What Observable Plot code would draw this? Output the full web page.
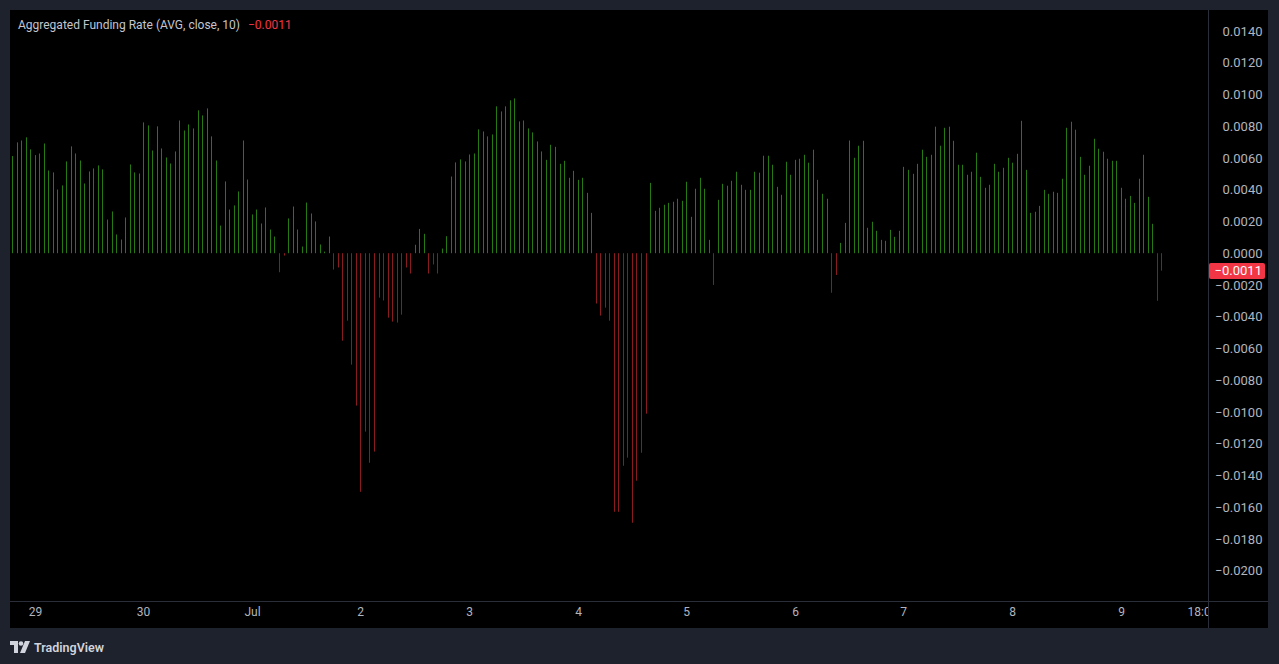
<!DOCTYPE html>
<html>
<head>
<meta charset="utf-8">
<script src="https://cdn.jsdelivr.net/npm/d3@7"></script>
<script src="https://cdn.jsdelivr.net/npm/@observablehq/plot@0.6"></script>
<style>
  html, body { margin: 0; padding: 0; background: #1e222d; }
  body { width: 1279px; height: 664px; position: relative; overflow: hidden; font-family: Roboto, "Open Sans", sans-serif; }
  #panel { position: absolute; left: 10px; top: 10px; width: 1258px; height: 618px; background: #000; }
  #title { position: absolute; left: 8px; top: 8px; font-size: 12px; color: #c3c6ce; white-space: nowrap; }
  #title .val { color: #f23645; margin-left: 8px; }
  #footer { position: absolute; left: 10px; top: 638px; height: 18px; display: flex; align-items: center; color: #d1d4dc; font-size: 12.5px; font-weight: 600; }
  #footer svg { margin-right: 4px; }
</style>
</head>
<body>
<div id="panel">
  <div id="chart"></div>
  <div id="title">Aggregated Funding Rate (AVG, close, 10)<span class="val">−0.0011</span></div>
</div>
<div id="footer">
  <svg width="20" height="12" viewBox="0 0 20 12"><path d="M0 0h8v12H4V4H0z" fill="#d1d4dc"/><circle cx="11" cy="2.5" r="2.3" fill="#d1d4dc"/><path d="M15 0h5l-5 12h-5z" fill="#d1d4dc"/></svg>
  <span>TradingView</span>
</div>
<script>
// hourly bars from 28 Jun 19:00 to 9 Jul 09:00
const startHour = Date.UTC(2024, 5, 28, 19);
const fundingRate = [
  0.00612, 0.00698, 0.0071, 0.0073, 0.00654, 0.00618, 0.00628, 0.00691, 0.00521, 0.00509, 0.00401, 0.00427, 0.00578, 0.00673, 0.00628, 0.00584, 0.00439, 0.00515, 0.00534, 0.00553, 0.00528, 0.00212, 0.00263, 0.00118,
  0.00086, 0.00225, 0.00559, 0.00509, 0.00502, 0.00824, 0.00805, 0.00647, 0.00799, 0.0066, 0.00603, 0.00565, 0.00641, 0.00836, 0.00773, 0.00811, 0.00786, 0.009, 0.00868, 0.00912, 0.00736, 0.00584, 0.00174,
  0.00452, 0.00275, 0.00301, 0.00389, 0.0071, 0.00464, 0.00244, 0.00275, 0.00187, 0.00288, 0.00149, 0.00105, -0.0012, -0.00015, 0.00219, 0.00294, 0.00149, 0.00042, 0.00319, 0.0025, 0.002, 0.00055, 0.0001, 0.00105,
  -0.00103, -0.0009, -0.00551, -0.00425, -0.00702, -0.0096, -0.01503, -0.01124, -0.0132, -0.0125, -0.0028, -0.00298, -0.00406, -0.00431, -0.00437, -0.00387, -0.0009, -0.00128, 0.00053, 0.00153, 0.00122, -0.00128, -0.00071, -0.00128,
  0.00029, 0.00107, 0.00483, 0.00572, 0.00591, 0.00578, 0.00622, 0.00628, 0.0078, 0.00767, 0.00736, 0.00748, 0.00925, 0.00893, 0.00925, 0.00963, 0.00975, 0.0083, 0.00836, 0.00786, 0.00761, 0.00704, 0.00641,
  0.00588, 0.00683, 0.0067, 0.00563, 0.00582, 0.00475, 0.00519, 0.00462, 0.00475, 0.0038, 0.00254, -0.00317, -0.00393, -0.00343, -0.00425, -0.01629, -0.01629, -0.01339, -0.01288, -0.01698, -0.01433, -0.01257, -0.01011, 0.00443,
  0.00267, 0.00286, 0.00305, 0.00317, 0.00324, 0.00343, 0.0033, 0.0045, 0.00229, 0.00406, 0.00475, 0.00406, 0.00084, -0.002, 0.00336, 0.00437, 0.00425, 0.00456, 0.00513, 0.00431, 0.00399, 0.00399, 0.00513, 0.00507,
  0.00614, 0.00614, 0.00557, 0.00418, 0.00368, 0.00576, 0.00494, 0.00588, 0.00595, 0.0062, 0.0057, 0.00652, 0.00462, 0.00374, 0.00343, -0.00249, -0.00137, 0.00065, 0.00191, 0.0071, 0.00601, 0.00677, 0.00708,
  0.0016, 0.00198, 0.00141, 0.00084, 0.00078, 0.00147, 0.00103, 0.00141, 0.00544, 0.00525, 0.005, 0.00563, 0.00652, 0.00607, 0.0062, 0.00797, 0.00677, 0.0079, 0.00797, 0.00708, 0.00557, 0.00557, 0.00494, 0.00513,
  0.00633, 0.00481, 0.00412, 0.00431, 0.00563, 0.00513, 0.00538, 0.00601, 0.0057, 0.00626, 0.00834, 0.00525, 0.00254, 0.00261, 0.00298, 0.00399, 0.00374, 0.00387, 0.0038, 0.00469, 0.0079, 0.00828, 0.00778, 0.00607,
  0.00494, 0.00551, 0.00721, 0.00658, 0.00639, 0.00595, 0.00582, 0.00582, 0.00412, 0.00343, 0.00361, 0.00317, 0.00469, 0.0062, 0.00355, 0.00185, -0.003, -0.0011
];
const yTicks = [0.014, 0.012, 0.010, 0.008, 0.006, 0.004, 0.002, 0, -0.002, -0.004, -0.006, -0.008, -0.010, -0.012, -0.014, -0.016, -0.018, -0.020];
const xTickDates = [
  Date.UTC(2024, 5, 29), Date.UTC(2024, 5, 30), Date.UTC(2024, 6, 1), Date.UTC(2024, 6, 2), Date.UTC(2024, 6, 3),
  Date.UTC(2024, 6, 4), Date.UTC(2024, 6, 5), Date.UTC(2024, 6, 6), Date.UTC(2024, 6, 7), Date.UTC(2024, 6, 8),
  Date.UTC(2024, 6, 9), Date.UTC(2024, 6, 9, 18)
];
const xTickLabels = ["29", "30", "Jul", "2", "3", "4", "5", "6", "7", "8", "9", "18:00"];
const lastValue = -0.0011;

const HOUR = 3600e3;
const GREEN = "#267a12";
const RED = "#8a1c1f";
const data = fundingRate.map((v, i) => ({t: new Date(startHour + i * HOUR), v}));
const xTicks = xTickDates.map((d, i) => ({t: new Date(d), label: xTickLabels[i]}));
const fmt = d3.format(".4f");

const W = 1258, H = 618, MR = 60, MB = 27;
const chart = Plot.plot({
  width: W, height: H,
  marginLeft: 0, marginRight: MR, marginTop: 0, marginBottom: MB,
  style: {background: "#000", color: "#b2b5be", fontFamily: "Roboto, 'Open Sans', sans-serif", fontSize: "12px"},
  x: {type: "utc", domain: [new Date(startHour - 0.44 * HOUR), new Date(startHour + 264.3 * HOUR)], axis: null, round: true},
  y: {domain: [-0.02191, 0.01532], axis: null},
  marks: [
    Plot.ruleX(data, {x: "t", y1: 0, y2: "v", stroke: d => d.v >= 0 ? GREEN : RED, strokeWidth: 1}),
    Plot.text(yTicks, {y: d => d, text: d => fmt(d), frameAnchor: "right", dx: 54, textAnchor: "end", fill: "#b2b5be", fontSize: 13}),
    Plot.text(xTicks, {x: "t", text: "label", frameAnchor: "bottom", dy: 14, fill: "#b2b5be", fontSize: 12})
  ]
});
document.getElementById("chart").appendChild(chart);

// TradingView-style scale separators, clip and last value label
const svg = d3.select(chart);
const y = chart.scale("y");
const frameRight = W - MR;
const defs = svg.append("defs");
defs.append("clipPath").attr("id", "timeclip").append("rect").attr("x", -1).attr("y", 0).attr("width", frameRight + 0.5).attr("height", H);
svg.selectAll("text").filter(function() { return this.textContent === "18:00"; })
  .each(function() { d3.select(this.parentNode).attr("clip-path", "url(#timeclip)"); });
svg.append("line").attr("x1", 0).attr("x2", W).attr("y1", H - MB + 0.5).attr("y2", H - MB + 0.5).attr("stroke", "#2a2e39");
svg.append("line").attr("x1", frameRight + 0.5).attr("x2", frameRight + 0.5).attr("y1", 0).attr("y2", H).attr("stroke", "#2a2e39");
const ly = y.apply(lastValue);
svg.append("rect").attr("x", frameRight + 1).attr("y", Math.round(ly) - 8).attr("width", 56).attr("height", 16).attr("rx", 2).attr("fill", "#f23645");
svg.append("text").attr("x", W - 6).attr("y", ly).attr("dy", "0.35em").attr("text-anchor", "end").attr("fill", "#fff").attr("font-size", 13).attr("font-family", "Roboto, sans-serif").text(fmt(lastValue));
</script>
</body>
</html>
